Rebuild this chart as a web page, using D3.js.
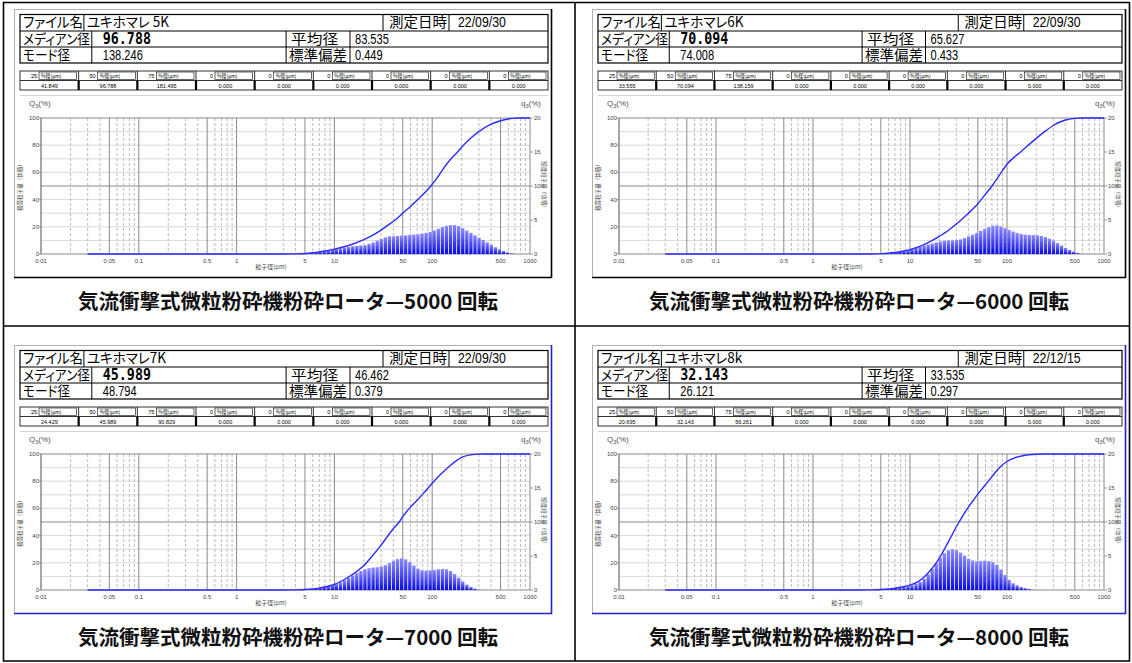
<!DOCTYPE html>
<html><head><meta charset="utf-8">
<script src="https://cdn.jsdelivr.net/npm/d3@7"></script>
<style>body{margin:0;background:#fff} svg{display:block}</style>
</head><body>
<svg id="c" width="1132" height="663"></svg>
<script>
// ---------------- data ----------------
const fileNames = ["ユキホマレ 5K", "ユキホマレ6K", "ユキホマレ7K", "ユキホマレ8k"];
const dates = ["22/09/30", "22/09/30", "22/09/30", "22/12/15"];
const medians = ["96.788", "70.094", "45.989", "32.143"];
const means = ["83.535", "65.627", "46.462", "33.535"];
const modes = ["138.246", "74.008", "48.794", "26.121"];
const stdevs = ["0.449", "0.433", "0.379", "0.297"];
const pctLevels = ["25", "50", "75", "0", "0", "0", "0", "0", "0"];
const pctValues = [
  ["41.849", "96.788", "181.495", "0.000", "0.000", "0.000", "0.000", "0.000", "0.000"],
  ["33.555", "70.094", "138.159", "0.000", "0.000", "0.000", "0.000", "0.000", "0.000"],
  ["24.429", "45.989", "90.829", "0.000", "0.000", "0.000", "0.000", "0.000", "0.000"],
  ["20.695", "32.143", "56.261", "0.000", "0.000", "0.000", "0.000", "0.000", "0.000"]
];
const captions = [
  "気流衝撃式微粒粉砕機粉砕ロータ—5000 回転",
  "気流衝撃式微粒粉砕機粉砕ロータ—6000 回転",
  "気流衝撃式微粒粉砕機粉砕ロータ—7000 回転",
  "気流衝撃式微粒粉砕機粉砕ロータ—8000 回転"
];
const xTicks = [0.01, 0.05, 0.1, 0.5, 1, 5, 10, 50, 100, 500, 1000];
const xTickLabels = ["0.01", "0.05", "0.1", "0.5", "1", "5", "10", "50", "100", "500", "1000"];
const yLeftTicks = [0, 20, 40, 60, 80, 100];
const yRightTicks = [0, 5, 10, 15, 20];

// channel grid of the analyser (log spaced), first plotted channel index
const binsPerDecade = 24;
const firstChannel = 14;

// frequency q3 (%) per channel
const hist5K = [0.05,0.08,0.1,0.15,0.2,0.28,0.35,0.45,0.55,0.65, 0.75,0.85,0.95,1.05,1.15,1.2,1.25,1.3,1.5,1.7,
  1.95,2.2,2.45,2.6,2.6,2.65,2.7,2.75,2.8,2.85, 2.9,3.0,3.1,3.25,3.45,3.7,3.95,4.15,4.25,4.25,
  4.1,3.8,3.45,3.1,2.75,2.4,2.05,1.7,1.35,1.0, 0.7,0.45,0.25,0.1,0.03];
const hist6K = [0.03,0.05,0.08,0.12,0.17,0.23,0.3,0.4,0.5,0.6, 0.8,0.95,1.1,1.25,1.4,1.55,1.7,1.85,1.95,2.0,
  2.0,2.05,2.15,2.35,2.6,2.85,3.1,3.4,3.7,3.95, 4.15,4.2,4.05,3.8,3.55,3.3,3.1,2.95,2.85,2.8,
  2.8,2.75,2.65,2.5,2.25,1.95,1.6,1.25,0.9,0.6, 0.35,0.15,0.05];
const hist7K = [0.04,0.07,0.1,0.15,0.2,0.28,0.38,0.5,0.62,0.75, 0.9,1.15,1.45,1.8,2.15,2.5,2.8,3.05,3.2,3.3,
  3.35,3.45,3.65,3.95,4.3,4.55,4.65,4.5,4.1,3.6, 3.15,2.9,2.85,2.9,2.95,3.05,3.1,3.05,2.8,2.35,
  1.8,1.25,0.8,0.45,0.2,0.07,0.02];
const hist8K = [0.03,0.05,0.08,0.12,0.17,0.23,0.3,0.38,0.47,0.57, 0.7,0.9,1.2,1.65,2.3,3.1,3.95,4.75,5.4,5.85,
  6.0,5.85,5.5,5.05,4.6,4.35,4.2,4.25,4.3,4.25, 4.1,3.7,3.0,2.2,1.5,1.0,0.7,0.45,0.28,0.15,
  0.07,0.02];

// cumulative Q3 (%) : [particle size µm, value]
const cum5K = [[0.03,0],[3,0],[4,0.1],[5,0.4],[6,0.9],[7,1.5],[8,2.2],[10,3.6],[12,5.0],[15,7.0],[20,10.5],[25,14],
  [30,17.5],[35,21],[41.8,25],[50,30],[60,35],[70,39.5],[80,43.5],[96.8,50],[110,55],[125,61],[140,66],[160,71],
  [181.5,75],[200,78.5],[250,85.5],[300,90],[400,95.5],[500,98],[600,99.3],[700,99.9],[800,100],[1000,100]];
const cum6K = [[0.03,0],[3,0],[4,0.05],[5,0.25],[6,0.6],[7,1.1],[8,1.7],[10,3.2],[12,5.0],[15,8.0],[20,13],[25,17.5],
  [30,22],[33.6,25],[40,30],[50,37],[60,44],[70.1,50],[80,56],[90,61.5],[100,66],[120,71.5],[138.2,75],[160,79],
  [200,85],[250,90.5],[300,94.5],[400,98.5],[500,99.7],[600,100],[1000,100]];
const cum7K = [[0.03,0],[3,0],[4,0.1],[5,0.35],[6,0.8],[7,1.4],[8,2.2],[10,4.2],[12,6.8],[15,11],[20,18],[24.4,25],
  [30,33],[35,39.5],[40,45],[46,50],[50,54],[60,61],[70,66],[80,70.5],[90.8,75],[100,78.5],[120,84.5],[150,91],
  [180,95.5],[200,97.5],[250,99.4],[300,99.9],[350,100],[1000,100]];
const cum8K = [[0.03,0],[3,0],[4,0.1],[5,0.35],[6,0.75],[7,1.3],[8,2.0],[10,3.6],[12,6],[14,9.5],[16,14],[18,18.5],
  [20.7,25],[23,31],[26,38],[29,44.5],[32.1,50],[36,56],[40,61],[45,66],[50,70.5],[56.3,75],[65,80.5],[75,86],
  [85,90.5],[100,94.5],[120,97.2],[150,98.9],[200,99.8],[250,100],[1000,100]];

const hists = [hist5K, hist6K, hist7K, hist8K];
const cums = [cum5K, cum6K, cum7K, cum8K];

// ---------------- drawing ----------------
const svg = d3.select("#c");
const defs = svg.append("defs");
const grad = defs.append("linearGradient").attr("id", "barg").attr("x1", 0).attr("y1", 0).attr("x2", 0).attr("y2", 1);
grad.append("stop").attr("offset", "0%").attr("stop-color", "#8a8aff");
grad.append("stop").attr("offset", "100%").attr("stop-color", "#0a0ae6");

const JP = "'Noto Sans CJK JP', sans-serif";
const LS = "'Liberation Sans', Arial, sans-serif";
const MONO = "'DejaVu Sans Mono', monospace";

function txt(g, x, y, s, o) {
  o = o || {};
  const t = g.append("text")
    .attr("transform", `translate(${x},${y}) scale(${o.sx || 1},${o.sy || 1})`)
    .attr("font-family", o.family || JP)
    .attr("font-size", o.size || 12)
    .attr("font-weight", o.weight || 400)
    .attr("fill", o.fill || "#000")
    .attr("text-anchor", o.anchor || "start")
    .text(s);
  if (o.len) t.attr("textLength", o.len).attr("lengthAdjust", "spacingAndGlyphs");
  if (o.palt) t.style("font-feature-settings", "'palt' 1");
  return t;
}
function line(g, x1, y1, x2, y2, stroke, w, dash) {
  const l = g.append("line").attr("x1", x1).attr("y1", y1).attr("x2", x2).attr("y2", y2)
    .attr("stroke", stroke).attr("stroke-width", w || 1);
  if (dash) l.attr("stroke-dasharray", dash);
  return l;
}

const panels = [
  {L: 14, T: 0, W: 537, capX: 288, border: "#000"},
  {L: 592, T: 0, W: 533, capX: 859, border: "#000"},
  {L: 14, T: 336, W: 537, capX: 288, border: "#2222cc"},
  {L: 592, T: 336, W: 533, capX: 859, border: "#2222cc"}
];

panels.forEach((p, i) => {
  const g = svg.append("g");
  const L = p.L, T = p.T, Wd = p.W;
  // panel frame
  g.append("rect").attr("x", L + 0.5).attr("y", T + 9.5).attr("width", Wd).attr("height", 268)
    .attr("fill", "none").attr("stroke", "#b0b0b0");
  g.append("path").attr("d", `M${L + Wd + 0.5},${T + 9} V${T + 277.5} H${L}`)
    .attr("stroke", p.border).attr("stroke-width", 1.6).attr("fill", "none");

  // ---- header table ----
  const tL = L + 6, tR = L + Wd - 3, tW = tR - tL;
  const r = [T + 14.5, T + 31, T + 47, T + 63];
  g.append("rect").attr("x", tL).attr("y", r[0]).attr("width", tW).attr("height", r[3] - r[0])
    .attr("fill", "none").attr("stroke", "#000").attr("stroke-width", 1.2);
  line(g, tL, r[1], tR, r[1], "#000", 1);
  line(g, tL, r[2], tR, r[2], "#000", 1);
  const c1 = [tL + 0.121 * tW, tL + 0.6875 * tW, tL + 0.8125 * tW];
  const c2 = [tL + 0.136 * tW, tL + 0.504 * tW, tL + 0.625 * tW];
  c1.forEach(x => line(g, x, r[0], x, r[1], "#000", 1));
  c2.forEach(x => line(g, x, r[1], x, r[3], "#000", 1));
  const fs = 13.5;
  const jp = (len) => ({size: fs, sy: 1.05, len: len, palt: true});
  const num = {size: 13.5, sx: 0.82, sy: 1.05, family: LS};
  const by = 12.8;
  txt(g, tL + 3, r[0] + by, "ファイル名", jp(60));
  txt(g, c1[0] + 3, r[0] + by, fileNames[i], {size: fs, sy: 1.05, palt: true});
  txt(g, c1[1] + 6, r[0] + by, "測定日時", jp(58));
  txt(g, c1[2] + 9, r[0] + by, dates[i], {size: 14, sx: 0.88, sy: 1.05, family: LS});
  txt(g, tL + 3, r[1] + by, "メディアン径", jp(67));
  txt(g, c2[0] + 11, r[1] + by, medians[i], {size: 14.5, sx: 0.92, sy: 1.05, family: MONO, weight: 700});
  txt(g, c2[1] + 5, r[1] + by, "平均径", jp(47));
  txt(g, c2[2] + 5, r[1] + by, means[i], num);
  txt(g, tL + 3, r[2] + by, "モード径", jp(47));
  txt(g, c2[0] + 11, r[2] + by, modes[i], num);
  txt(g, c2[1] + 3, r[2] + by, "標準偏差", jp(58));
  txt(g, c2[2] + 5, r[2] + by, stdevs[i], num);

  // percentile rows
  const s0 = T + 71, s1 = T + 80.5, s2 = T + 90;
  const cw = tW / 9;
  g.append("rect").attr("x", tL).attr("y", s0).attr("width", tW).attr("height", s2 - s0)
    .attr("fill", "none").attr("stroke", "#000").attr("stroke-width", 0.8);
  line(g, tL, s1, tR, s1, "#000", 0.8);
  pctLevels.forEach((lv, j) => {
    const cx = tL + j * cw;
    if (j > 0) {
      line(g, cx, s0, cx, s1, "#000", 0.8);
      line(g, cx, s1, cx, s2, "#000", 2.2);
    }
    txt(g, cx + 17, s0 + 7, lv, {size: 5.5, family: LS, anchor: "end"});
    g.append("rect").attr("x", cx + 19).attr("y", s0 + 1).attr("width", cw - 21).attr("height", s1 - s0 - 2)
      .attr("fill", "none").attr("stroke", "#000").attr("stroke-width", 0.6);
    txt(g, cx + 21, s0 + 7, "%径(μm)", {size: 5.5, sx: 0.9});
    txt(g, cx + cw / 2, s1 + 7, pctValues[i][j], {size: 5.5, family: LS, anchor: "middle"});
  });
  line(g, tL, T + 95.5, tR, T + 95.5, "#c8c8c8", 0.8);

  // ---- chart ----
  const x0 = L + 27, x1 = L + Wd - 21, yTop = T + 118, yBot = T + 254;
  const x = d3.scaleLog().domain([0.01, 1000]).range([x0, x1]);
  const yL = d3.scaleLinear().domain([0, 100]).range([yBot, yTop]);
  const yR = d3.scaleLinear().domain([0, 20]).range([yBot, yTop]);

  // horizontal grid
  d3.range(10, 100, 10).forEach(v => {
    line(g, x0, yL(v), x1, yL(v), v === 50 ? "#8a8a8a" : "#cfcfcf", v === 50 ? 1 : 0.8);
  });
  // vertical grid
  [0.01, 0.1, 1, 10, 100].forEach(d => {
    for (let m = 1; m <= 9; m++) {
      const v = m * d;
      if (m === 1 || m === 5) line(g, x(v), yTop, x(v), yBot, "#8a8a8a", 1);
      else line(g, x(v), yTop, x(v), yBot, "#b4b4b4", 0.9, "3,2");
    }
  });
  g.append("rect").attr("x", x0).attr("y", yTop).attr("width", x1 - x0).attr("height", yBot - yTop)
    .attr("fill", "none").attr("stroke", "#8a8a8a").attr("stroke-width", 1);

  // histogram bars
  g.append("g").selectAll("rect").data(hists[i]).join("rect")
    .attr("x", (v, k) => x(Math.pow(10, (firstChannel + k) / binsPerDecade)) + 0.4)
    .attr("width", (v, k) => x(Math.pow(10, (firstChannel + k + 1) / binsPerDecade)) - x(Math.pow(10, (firstChannel + k) / binsPerDecade)) - 0.8)
    .attr("y", v => yR(v))
    .attr("height", v => yR(0) - yR(v))
    .attr("fill", "url(#barg)");

  // cumulative curve
  const lineGen = d3.line().x(d => x(d[0])).y(d => yL(d[1])).curve(d3.curveMonotoneX);
  g.append("path").attr("d", lineGen(cums[i])).attr("fill", "none")
    .attr("stroke", "#2b2bff").attr("stroke-width", 1.4);

  // tick labels
  const tk = {size: 6, family: LS, fill: "#444"};
  xTicks.forEach((v, k) => txt(g, x(v), yBot + 9, xTickLabels[k], Object.assign({anchor: "middle"}, tk)));
  yLeftTicks.forEach(v => {
    txt(g, x0 - 2, yL(v) + 2, String(v), Object.assign({anchor: "end"}, tk));
    line(g, x0 - 2, yL(v), x0, yL(v), "#888", 0.8);
  });
  yRightTicks.forEach(v => {
    txt(g, x1 + 4, yR(v) + 2, String(v), tk);
    line(g, x1, yR(v), x1 + 3, yR(v), "#888", 0.8);
  });
  // axis titles
  const q = g.append("text").attr("x", L + 15).attr("y", T + 106).attr("font-family", LS)
    .attr("font-size", 8).attr("fill", "#555");
  q.append("tspan").text("Q");
  q.append("tspan").attr("font-size", 5.5).attr("dy", 2).text("3");
  q.append("tspan").attr("dy", -2).text("(%)");
  const q2 = g.append("text").attr("x", x1 + 11).attr("y", T + 106).attr("font-family", LS)
    .attr("font-size", 8).attr("fill", "#555").attr("text-anchor", "end");
  q2.append("tspan").text("q");
  q2.append("tspan").attr("font-size", 5.5).attr("dy", 2).text("3");
  q2.append("tspan").attr("dy", -2).text("(%)");
  txt(g, x0 + 0.47 * (x1 - x0), yBot + 15, "粒子径(μm)", {size: 6, fill: "#444", anchor: "middle"});
  g.append("text").attr("transform", `translate(${x0 - 19},${(yTop + yBot) / 2}) rotate(-90)`)
    .attr("font-family", JP).attr("font-size", 5.5).attr("fill", "#444").attr("text-anchor", "middle")
    .text("積算粒子量（体積）");
  g.append("text").attr("transform", `translate(${x1 + 12},${(yTop + yBot) / 2}) rotate(90)`)
    .attr("font-family", JP).attr("font-size", 5.5).attr("fill", "#444").attr("text-anchor", "middle")
    .text("頻度粒子量（体積）");

  // caption
  txt(svg, p.capX, T + 309, captions[i], {size: 20.5, weight: 700, anchor: "middle", fill: "#111"});
});

// outer frame
svg.append("path").attr("d", "M3.5,2.5 H1129.5 V661 H3.5 Z M575,2.5 V661 M3.5,326 H1129.5")
  .attr("fill", "none").attr("stroke", "#000").attr("stroke-width", 1.6);
</script>
</body></html>
